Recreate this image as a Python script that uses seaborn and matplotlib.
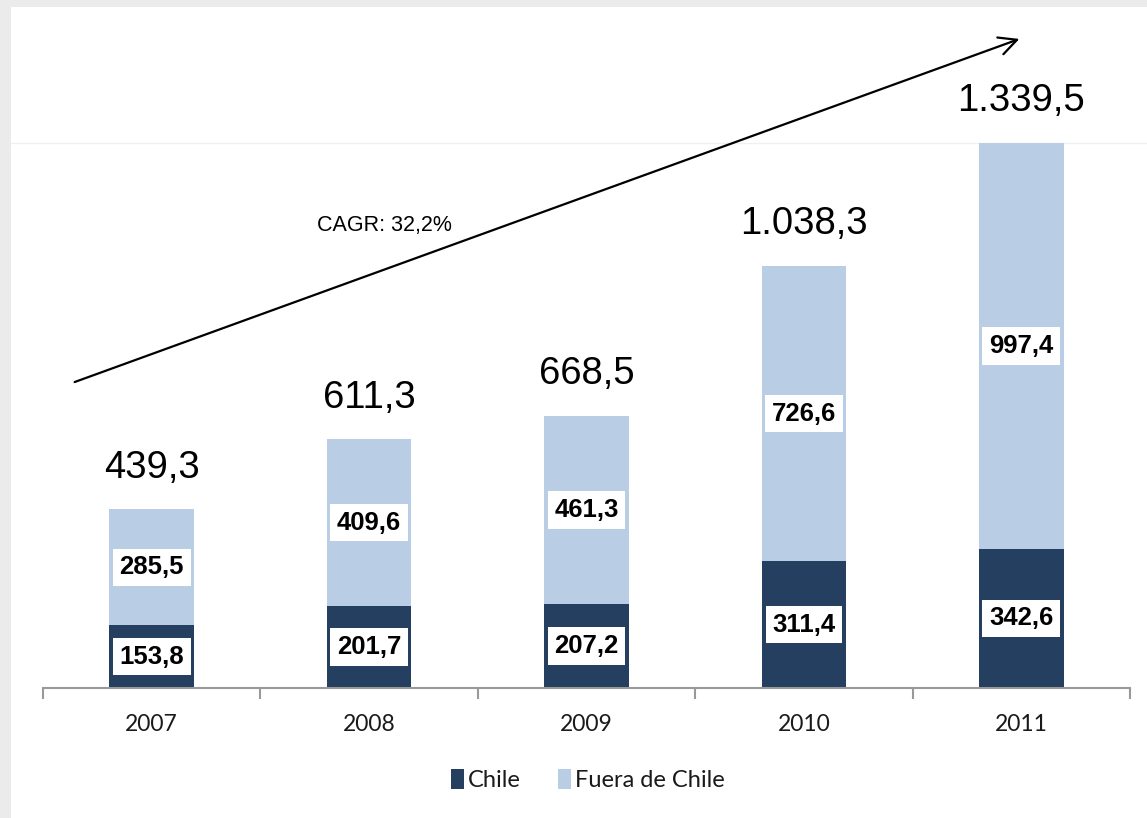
import matplotlib
matplotlib.use("Agg")
import matplotlib.pyplot as plt
import seaborn as sns
import pandas as pd
from matplotlib.patches import Rectangle, FancyArrowPatch
from matplotlib.lines import Line2D

years = ["2007", "2008", "2009", "2010", "2011"]
chile = [153.8, 201.7, 207.2, 311.4, 342.6]
fuera = [285.5, 409.6, 461.3, 726.6, 997.4]
totals = [439.3, 611.3, 668.5, 1038.3, 1339.5]
cagr_label = "CAGR: 32,2%"
series_names = ["Chile", "Fuera de Chile"]

dark = "#243f60"
light = "#b9cde5"

sns.set_theme(style="white")
plt.rcParams["font.family"] = ["Lato", "DejaVu Sans"]
ARIAL = ["Liberation Sans", "DejaVu Sans"]

W, H = 1147, 818
fig = plt.figure(figsize=(W / 100, H / 100), dpi=100)
fig.patch.set_facecolor("#ebebeb")
fig.patches.append(Rectangle((11 / W, 0), 1 - 11 / W, 1 - 7 / H, transform=fig.transFigure,
                             facecolor="white", edgecolor="none", zorder=-2))
fig.lines.append(Line2D([11 / W, 1], [1 - 143 / H, 1 - 143 / H], transform=fig.transFigure,
                        color="#f0f0f0", lw=1, zorder=-1))

ax = fig.add_axes([43 / W, 130 / H, 1087 / W, 545 / H])
ax.patch.set_alpha(0)
ax.set_zorder(2)

df = pd.DataFrame({"year": years, "chile": chile, "fuera": fuera})
df["stack"] = df["chile"] + df["fuera"]

sns.barplot(data=df, x="year", y="stack", color=light, width=0.39, saturation=1,
            linewidth=0, ax=ax, label=series_names[1])
sns.barplot(data=df, x="year", y="chile", color=dark, width=0.39, saturation=1,
            linewidth=0, ax=ax, label=series_names[0])

handles, labels = ax.get_legend_handles_labels()
if ax.get_legend() is not None:
    ax.get_legend().remove()

ax.set_xlim(-0.5, len(years) - 0.5)
ax.set_ylim(0, 1340)
ax.set_xlabel("")
ax.set_ylabel("")
ax.set_yticks([])
for s in ["top", "right", "left"]:
    ax.spines[s].set_visible(False)
ax.spines["bottom"].set_color("#999999")
ax.spines["bottom"].set_linewidth(1.5)

ax.set_xticks(range(len(years)))
ax.set_xticklabels(years, fontsize=16.5, color="#1a1a1a")
ax.set_xticks([i - 0.5 for i in range(len(years) + 1)], minor=True)
ax.tick_params(axis="x", which="major", bottom=False, length=0, pad=19)
ax.tick_params(axis="x", which="minor", bottom=True, length=8, width=1.5,
               color="#999999", direction="out")

box = dict(boxstyle="square,pad=0.26", facecolor="white", edgecolor="none")
for i in range(len(years)):
    ax.text(i, chile[i] / 2, f"{chile[i]:.1f}".replace(".", ","), ha="center", va="center",
            fontsize=18.5, fontweight="bold", family=ARIAL,
            color="black", bbox=box, zorder=5)
    ax.text(i, chile[i] + fuera[i] / 2, f"{fuera[i]:.1f}".replace(".", ","), ha="center",
            va="center", fontsize=18.5, fontweight="bold", family=ARIAL,
            color="black", bbox=box, zorder=5)
    s = f"{totals[i]:,.1f}".replace(",", "X").replace(".", ",").replace("X", ".")
    ax.annotate(s, (i, chile[i] + fuera[i]), xytext=(0, 30), textcoords="offset points",
                ha="center", va="center", fontsize=27.5, family=ARIAL,
                color="black", annotation_clip=False)

fig.text(384 / W, 1 - 225 / H, cagr_label, ha="center", va="center", fontsize=15.5,
         family=ARIAL, color="black", zorder=3)
fig.add_artist(FancyArrowPatch(
    (72 / W, 1 - 383 / H), (1022 / W, 1 - 38 / H), transform=fig.transFigure,
    arrowstyle="->", mutation_scale=32, lw=1.6, color="black", zorder=3))

order = [labels.index(n) for n in series_names]
leg = fig.legend([handles[k] for k in order], [labels[k] for k in order],
                 loc="center", bbox_to_anchor=(588 / W, 1 - 780 / H), ncol=2, frameon=False,
                 fontsize=17, handlelength=0.55, handleheight=0.9, handletextpad=0.15,
                 columnspacing=1.6)
for t in leg.get_texts():
    t.set_color("#1a1a1a")

fig.savefig("out.png", dpi=100, facecolor=fig.get_facecolor())
